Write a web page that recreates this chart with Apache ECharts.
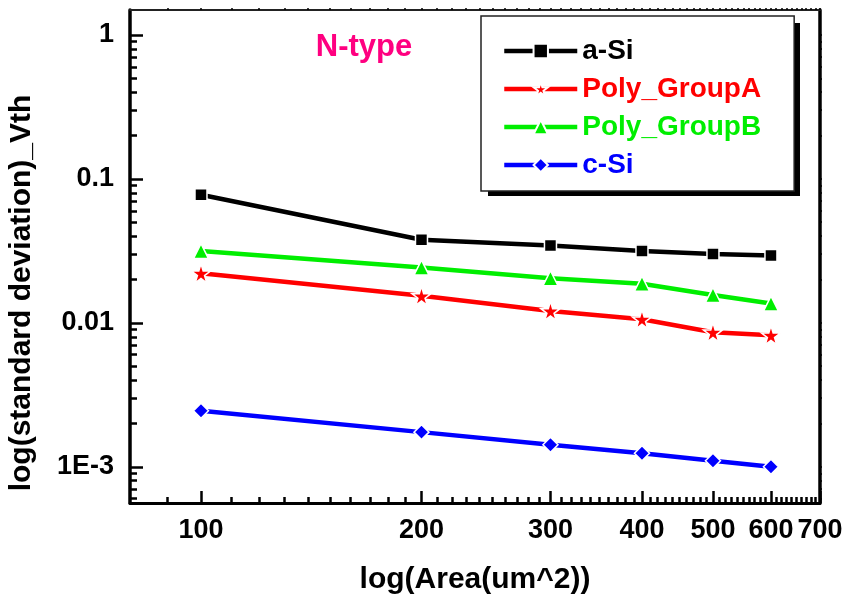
<!DOCTYPE html>
<html>
<head>
<meta charset="utf-8">
<script src="https://cdn.jsdelivr.net/npm/echarts@6/dist/echarts.min.js"></script>
<style>
  html, body { margin: 0; padding: 0; background: #fff; }
  #chart { width: 846px; height: 604px; }
</style>
</head>
<body>
<div id="chart"></div>
<script>
// Measurement areas (um^2) and standard deviation of Vth per technology
const areas = [100, 200, 300, 400, 500, 600];
const aSi = [0.0775, 0.0378, 0.0344, 0.0316, 0.0301, 0.0293];
const polyGroupA = [0.0221, 0.0154, 0.0121, 0.0106, 0.0086, 0.0082];
const polyGroupB = [0.0315, 0.0242, 0.0204, 0.0187, 0.0156, 0.0136];
const cSi = [0.00245, 0.00174, 0.00142, 0.00124, 0.0011, 0.00100];

// Axis ticks
const xTickValues = [100, 200, 300, 400, 500, 600, 700];
const yTickValues = [0.001, 0.01, 0.1, 1];
const yTickLabels = ['1E-3', '0.01', '0.1', '1'];
const xRange = [80, 700];
const yRange = [5.6e-4, 1.49];

const FONT = '"Liberation Sans", Arial, Helvetica, sans-serif';
const lg = Math.log10;

// Log-decade minor ticks (2..9 x 10^n) inside a range
function minorLog(lo, hi) {
  const out = [];
  for (let e = Math.floor(lg(lo)) - 1; e <= Math.ceil(lg(hi)); e++) {
    for (let k = 2; k <= 9; k++) {
      const v = k * Math.pow(10, e);
      if (v >= lo && v <= hi) out.push(lg(v));
    }
  }
  return out;
}
// Minor ticks every 10 units along the area axis
function minorArea(lo, hi) {
  const out = [];
  for (let v = 90; v <= hi; v += 10) {
    if (v >= lo && xTickValues.indexOf(v) < 0) out.push(lg(v));
  }
  return out;
}

const xMajor = xTickValues.map(lg);
const yMajor = yTickValues.map(lg);
const xMinor = minorArea(xRange[0], xRange[1]);
const yMinor = minorLog(yRange[0], yRange[1]);

const toPoints = ys => areas.map((a, i) => [lg(a), lg(ys[i])]);

const starPath = 'path://M50,0 L61,35 L98,35 L68,57 L79,91 L50,70 L21,91 L32,57 L2,35 L39,35 Z';

function lineSeries(name, ys, color, symbol, size) {
  return {
    name: name,
    type: 'line',
    data: toPoints(ys),
    symbol: symbol,
    symbolSize: size,
    showAllSymbol: true,
    color: color,
    lineStyle: { color: color, width: 4.5 },
    itemStyle: { color: color, borderColor: '#fff', borderWidth: 1.5 },
    emphasis: { disabled: true },
    z: 3
  };
}

const baseX = {
  type: 'value',
  min: lg(xRange[0]),
  max: lg(xRange[1]),
  splitLine: { show: false },
  axisLabel: { show: false },
  axisTick: { show: false },
  axisLine: { show: false, onZero: false }
};
const baseY = {
  type: 'value',
  min: lg(yRange[0]),
  max: lg(yRange[1]),
  splitLine: { show: false },
  axisLabel: { show: false },
  axisTick: { show: false },
  axisLine: { show: false, onZero: false }
};

const chart = echarts.init(document.getElementById('chart'), null, { renderer: 'canvas' });

chart.setOption({
  backgroundColor: '#ffffff',
  animation: false,
  grid: { left: 130, top: 10, right: 26, bottom: 101, containLabel: false },
  xAxis: [
    Object.assign({}, baseX, {
      position: 'bottom',
      axisLine: { show: true, onZero: false, lineStyle: { color: '#000', width: 3 } },
      axisTick: { show: true, inside: true, length: 12, lineStyle: { color: '#000', width: 2.5 }, customValues: xMajor },
      axisLabel: {
        show: true, customValues: xMajor, margin: 14,
        formatter: v => String(Math.round(Math.pow(10, v))),
        color: '#000', fontSize: 27, fontWeight: 'bold', fontFamily: FONT
      },
      name: 'log(Area(um^2))',
      nameLocation: 'middle',
      nameGap: 62,
      nameTextStyle: { color: '#000', fontSize: 30, fontWeight: 'bold', fontFamily: FONT }
    }),
    Object.assign({}, baseX, {
      position: 'bottom',
      axisTick: { show: true, inside: true, length: 6, lineStyle: { color: '#000', width: 2.5 }, customValues: xMinor }
    }),
    Object.assign({}, baseX, {
      position: 'top',
      axisLine: { show: true, onZero: false, lineStyle: { color: '#222', width: 2 } },
      axisTick: { show: true, inside: false, length: 2, lineStyle: { color: '#000', width: 1.5 }, customValues: xMajor.concat(xMinor) }
    })
  ],
  yAxis: [
    Object.assign({}, baseY, {
      position: 'left',
      axisLine: { show: true, onZero: false, lineStyle: { color: '#000', width: 3.5 } },
      axisTick: { show: true, inside: true, length: 13, lineStyle: { color: '#000', width: 2.5 }, customValues: yMajor },
      axisLabel: {
        show: true, customValues: yMajor, margin: 16,
        formatter: v => {
          const i = yMajor.findIndex(m => Math.abs(m - v) < 1e-6);
          return i >= 0 ? yTickLabels[i] : '';
        },
        color: '#000', fontSize: 27, fontWeight: 'bold', fontFamily: FONT
      }
    }),
    Object.assign({}, baseY, {
      position: 'left',
      axisTick: { show: true, inside: true, length: 7, lineStyle: { color: '#000', width: 2.5 }, customValues: yMinor }
    }),
    Object.assign({}, baseY, {
      position: 'right',
      axisLine: { show: true, onZero: false, lineStyle: { color: '#000', width: 3.5 } },
      axisTick: { show: true, inside: false, length: 2, lineStyle: { color: '#000', width: 1.5 }, customValues: yMajor.concat(yMinor) }
    })
  ],
  legend: {
    orient: 'vertical',
    left: 481,
    top: 16,
    z: 6,
    padding: [21, 33, 12, 21],
    itemGap: 10,
    itemWidth: 73,
    itemHeight: 18,
    backgroundColor: '#fff',
    borderColor: '#222',
    borderWidth: 1.5,
    selectedMode: false,
    lineStyle: { width: 4.5 },
    textStyle: { fontSize: 28, fontWeight: 'bold', fontFamily: FONT },
    data: [
      { name: 'a-Si', textStyle: { color: '#000' } },
      { name: 'Poly_GroupA', textStyle: { color: '#ff0000' } },
      { name: 'Poly_GroupB', textStyle: { color: '#00ee00' } },
      { name: 'c-Si', textStyle: { color: '#0000ff' } }
    ]
  },
  graphic: [
    {
      // drop shadow behind the legend box
      type: 'rect', left: 488, top: 23, z: 5,
      shape: { width: 312, height: 173 },
      style: { fill: '#000' }
    },
    {
      type: 'text', x: 364, y: 47, z: 10,
      style: { text: 'N-type', fill: '#ff0080', font: 'bold 31px ' + FONT, align: 'center', verticalAlign: 'middle' }
    },
    {
      type: 'text', x: 22, y: 293, rotation: Math.PI / 2, z: 10,
      style: { text: 'log(standard deviation)_Vth', fill: '#000', font: 'bold 30px ' + FONT, align: 'center', verticalAlign: 'middle' }
    }
  ],
  series: [
    lineSeries('a-Si', aSi, '#000000', 'rect', 12),
    lineSeries('Poly_GroupA', polyGroupA, '#ff0000', starPath, 19),
    lineSeries('Poly_GroupB', polyGroupB, '#00ee00', 'triangle', 15),
    lineSeries('c-Si', cSi, '#0000ff', 'diamond', 15)
  ]
});
</script>
</body>
</html>
